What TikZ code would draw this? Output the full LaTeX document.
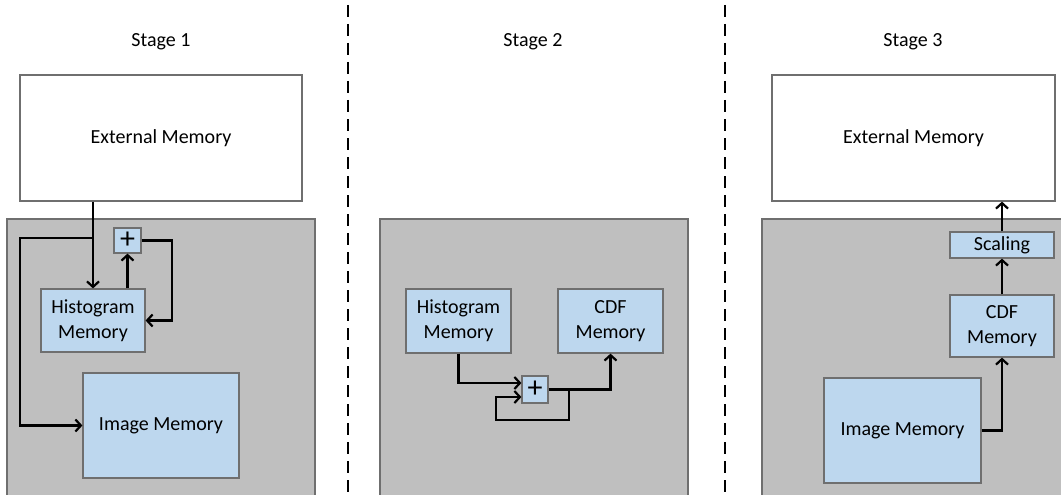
\documentclass[tikz,border=0pt]{standalone}
\usepackage{fontspec}
\setmainfont{Carlito}
\usetikzlibrary{arrows.meta,calc}
\definecolor{panelgray}{HTML}{BFBFBF}
\definecolor{boxblue}{HTML}{BDD7EE}
\definecolor{edgegray}{HTML}{6F6F6F}
\tikzset{
  panel/.style={draw=edgegray,fill=panelgray,line width=1.2pt},
  extbox/.style={draw=edgegray,fill=white,line width=1.2pt,inner sep=0pt,align=center,font=\fontsize{20}{25}\selectfont},
  bluebox/.style={draw=edgegray,fill=boxblue,line width=1.2pt,inner sep=0pt,align=center,font=\fontsize{20}{25}\selectfont},
  plusbox/.style={bluebox,font=\fontsize{30}{30}\selectfont},
  title/.style={font=\fontsize{20}{25}\selectfont,inner sep=0pt},
  arr/.style={line width=2.7pt,-{Straight Barb[length=5.5pt,width=12pt,line width=2.2pt]}},
  divider/.style={line width=2.6pt,dash pattern=on 12pt off 7pt}
}
\begin{document}
\begin{tikzpicture}[x=1pt,y=-1pt]
\useasboundingbox (0,0) rectangle (1061,495);
% dividers
\draw[divider] (348,5) -- (348,495);
\draw[divider] (725,5) -- (725,495);
% titles
\node[title] (t1) at (161,42) {Stage 1};
\node[title] (t2) at (533,42) {Stage 2};
\node[title] (t3) at (913,42) {Stage 3};
% panels
\begin{scope}
\clip (0,0) rectangle (1061,495);
\draw[panel] (7,219) rectangle (315,500);
\draw[panel] (380,219) rectangle (688,500);
\draw[panel] (762,219) rectangle (1070,500);
\end{scope}
% ---------- Stage 1
\node[extbox,minimum width=282pt,minimum height=126pt] (ext1) at (161,138) {External Memory};
\node[bluebox,minimum width=104pt,minimum height=63pt] (hist1) at (93,320.5) {Histogram\\Memory};
\node[plusbox,minimum width=27pt,minimum height=25pt] (plus1) at (127.5,240.5) {+};
\node[bluebox,minimum width=156pt,minimum height=105pt] (img1) at (161,425.5) {Image Memory};
\coordinate (j1) at (93,238);
\draw[arr] (ext1.south -| hist1.north) -- (hist1.north);
\draw[arr] (j1) -- (20,238) |- (img1.west);
\draw[arr] (hist1.north -| plus1.south) -- (plus1.south);
\draw[arr] (plus1.east) -- (172,240.5) |- (hist1.east);
% ---------- Stage 2
\node[bluebox,minimum width=105pt,minimum height=64pt] (hist2) at (458.5,321) {Histogram\\Memory};
\node[bluebox,minimum width=105pt,minimum height=64pt] (cdf2) at (610.5,321) {CDF\\Memory};
\node[plusbox,minimum width=26pt,minimum height=27pt] (plus2) at (535,389.5) {+};
\draw[arr] (hist2.south) |- ($(plus2.west)+(0,-6.5)$);
\draw[arr] (plus2.east) -| (cdf2.south);
\coordinate (j2) at (569,389.5);
\draw[arr] (j2) -- (569,420) -- (496,420) |- ($(plus2.west)+(0,7.5)$);
% ---------- Stage 3
\node[extbox,minimum width=283pt,minimum height=126pt] (ext3) at (913.5,138) {External Memory};
\node[bluebox,minimum width=104pt,minimum height=26pt] (scal3) at (1002,245) {Scaling};
\node[bluebox,minimum width=104pt,minimum height=62pt] (cdf3) at (1002,326) {CDF\\Memory};
\node[bluebox,minimum width=157pt,minimum height=105pt] (img3) at (902.5,430.5) {Image Memory};
\draw[arr] (img3.east) -| (cdf3.south);
\draw[arr] (cdf3.north) -- (scal3.south);
\draw[arr] (scal3.north) -- (ext3.south -| scal3.north);
\end{tikzpicture}
\end{document}
